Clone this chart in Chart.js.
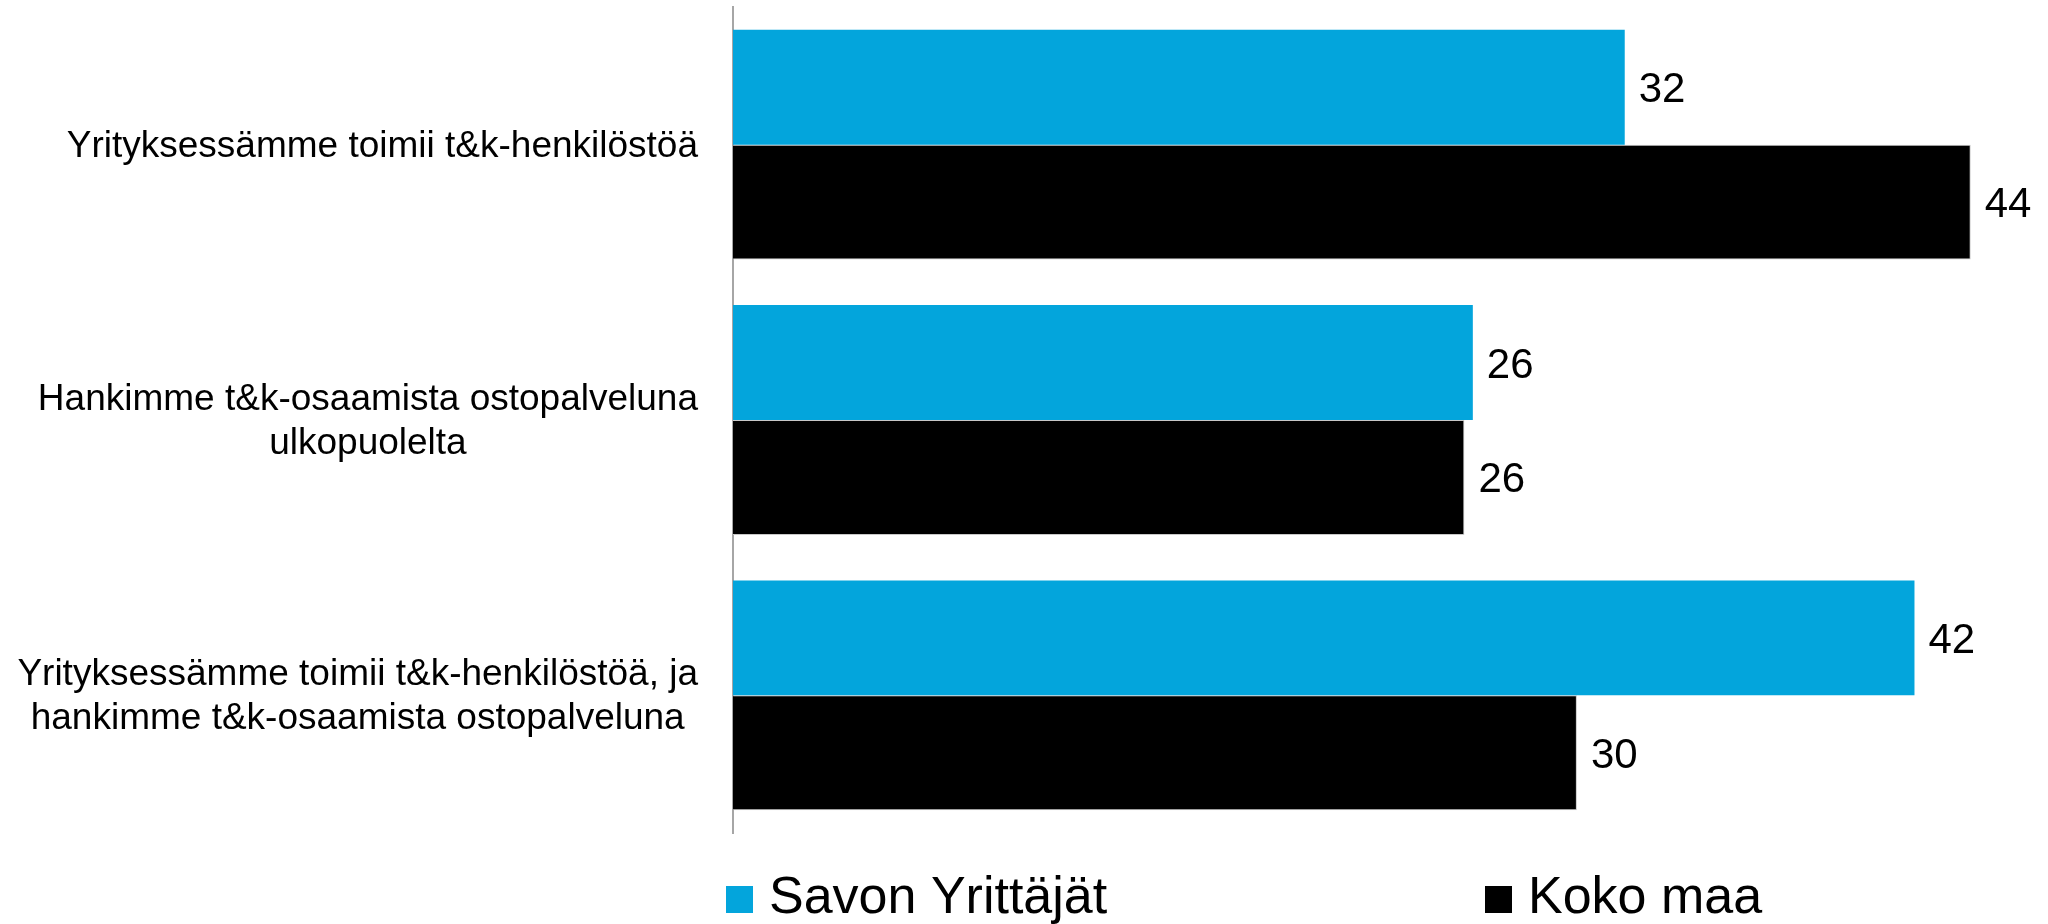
<!DOCTYPE html>
<html lang="fi">
<head>
<meta charset="utf-8">
<title>T&amp;K-osaaminen</title>
<script src="https://cdn.jsdelivr.net/npm/chart.js@4.4.0/dist/chart.umd.min.js"></script>
<style>
  html, body { margin: 0; padding: 0; background: #fff; }
  #kaavio-laatikko { position: relative; width: 2048px; height: 924px; }
</style>
</head>
<body>
<div id="kaavio-laatikko"><canvas id="kaavio"></canvas></div>
<script>
// Aineisto (luettu kuvasta)
const kategoriat = [
    ['Yrityksessämme toimii t&k-henkilöstöä'],
    ['Hankimme t&k-osaamista ostopalveluna', 'ulkopuolelta'],
    ['Yrityksessämme toimii t&k-henkilöstöä, ja', 'hankimme t&k-osaamista ostopalveluna']
];
const sarjat = ['Savon Yrittäjät', 'Koko maa'];
const savonYrittajat = [31.7, 26.3, 42];
const kokoMaa = [44, 26, 30];
const xMax = 46;

const sininen = '#03a5dc';
const musta = '#000000';
const fontti = '"Liberation Sans", Arial, sans-serif';

// Arvot palkkien perään
const arvoTekstit = {
    id: 'arvoTekstit',
    afterDatasetsDraw(chart) {
        const ctx = chart.ctx;
        ctx.save();
        ctx.font = '42px ' + fontti;
        ctx.fillStyle = '#000';
        ctx.textAlign = 'left';
        ctx.textBaseline = 'alphabetic';
        chart.data.datasets.forEach((ds, i) => {
            chart.getDatasetMeta(i).data.forEach((bar, j) => {
                ctx.fillText(String(Math.round(ds.data[j])), bar.x + 14, bar.y + 15);
            });
        });
        ctx.restore();
    }
};

// Kategorioiden nimet: rivit keskitetty, lohko oikealle akselia vasten
const kategoriaTekstit = {
    id: 'kategoriaTekstit',
    afterDraw(chart) {
        const ctx = chart.ctx;
        const yAkseli = chart.scales.y;
        const oikea = chart.chartArea.left - 35;
        ctx.save();
        ctx.font = '37px ' + fontti;
        ctx.fillStyle = '#000';
        ctx.textAlign = 'center';
        ctx.textBaseline = 'alphabetic';
        chart.data.labels.forEach((rivit, i) => {
            const leveys = Math.max(...rivit.map(r => ctx.measureText(r).width));
            const keski = yAkseli.getPixelForTick(i);
            const x = oikea - leveys / 2;
            const alku = keski - (rivit.length - 1) * 22 + 12;
            rivit.forEach((r, k) => ctx.fillText(r, x, alku + k * 44));
        });
        ctx.restore();
    }
};

// Selite alas, kohteet kaukana toisistaan kuten alkuperäisessä
const selite = {
    id: 'selite',
    afterDraw(chart) {
        const ctx = chart.ctx;
        const vasen = chart.chartArea.left;
        const paikat = [vasen - 7, vasen + 752];
        ctx.save();
        ctx.font = '52px ' + fontti;
        ctx.textAlign = 'left';
        ctx.textBaseline = 'alphabetic';
        chart.data.datasets.forEach((ds, i) => {
            ctx.fillStyle = ds.backgroundColor;
            ctx.fillRect(paikat[i], 886, 27, 27);
            ctx.fillStyle = '#000';
            ctx.fillText(ds.label, paikat[i] + 43, 913);
        });
        ctx.restore();
    }
};

new Chart(document.getElementById('kaavio').getContext('2d'), {
    type: 'bar',
    data: {
        labels: kategoriat,
        datasets: [
            {
                label: sarjat[0],
                data: savonYrittajat,
                backgroundColor: sininen,
                borderWidth: 0,
                barPercentage: 1,
                categoryPercentage: 0.835
            },
            {
                label: sarjat[1],
                data: kokoMaa,
                backgroundColor: musta,
                borderColor: '#c8c8c8',
                borderWidth: 1,
                barPercentage: 1,
                categoryPercentage: 0.835
            }
        ]
    },
    options: {
        indexAxis: 'y',
        responsive: true,
        maintainAspectRatio: false,
        animation: false,
        devicePixelRatio: 1,
        layout: { padding: { left: 0, right: 21, top: 7, bottom: 91 } },
        plugins: {
            legend: { display: false },
            tooltip: { enabled: false }
        },
        scales: {
            x: { display: false, min: 0, max: xMax },
            y: {
                display: true,
                ticks: { display: false },
                grid: { display: false, drawTicks: false },
                border: { display: true, color: '#a6a6a6', width: 2 },
                afterFit(scale) { scale.width = 733; }
            }
        }
    },
    plugins: [arvoTekstit, kategoriaTekstit, selite]
});
</script>
</body>
</html>
